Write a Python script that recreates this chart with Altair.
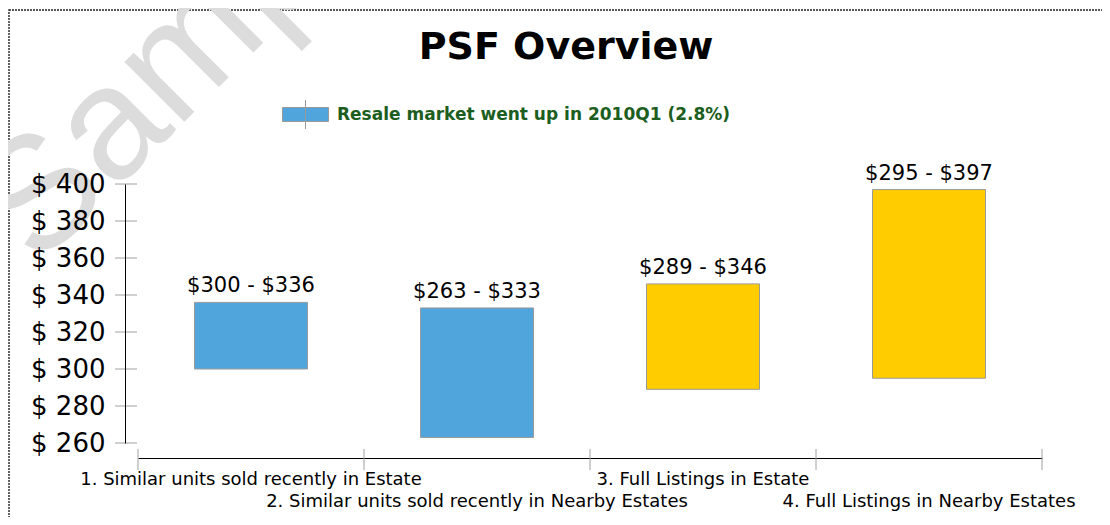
import altair as alt
import pandas as pd

# ---- data ----
categories = [
    "1. Similar units sold recently in Estate",
    "2. Similar units sold recently in Nearby Estates",
    "3. Full Listings in Estate",
    "4. Full Listings in Nearby Estates",
]
low = [300, 263, 289, 295]
high = [336, 333, 346, 397]
series = [
    "Resale market went up in 2010Q1 (2.8%)",
    "Resale market went up in 2010Q1 (2.8%)",
    "Listings",
    "Listings",
]
y_ticks = [260, 280, 300, 320, 340, 360, 380, 400]
boundaries = [0, 1, 2, 3, 4]

BLUE = "#50A5DC"
YELLOW = "#FFCC00"
FONT = "DejaVu Sans"
W, H = 904, 259

df = pd.DataFrame({"category": categories, "low": low, "high": high, "series": series})
df["idx"] = list(range(len(categories)))
df["x0"] = df["idx"] + 0.25
df["x1"] = df["idx"] + 0.75
df["xc"] = df["idx"] + 0.5
df["label"] = ["$%d - $%d" % (a, b) for a, b in zip(low, high)]
df["row"] = df["idx"] % 2

xscale = alt.Scale(domain=[0, 4], nice=False, zero=False)
yscale = alt.Scale(domain=[260, 400], nice=False, zero=False)

x_axis = alt.Axis(values=boundaries, labels=False, ticks=False, grid=False,
                  domainColor="black", domainWidth=1, offset=15, title=None)
y_axis = alt.Axis(values=y_ticks, labelExpr="'$ ' + datum.value", ticks=False,
                  grid=False, offset=13, labelPadding=20, labelFontSize=26,
                  labelFont=FONT, labelColor="black", domainColor="black",
                  domainWidth=1, title=None, zindex=1)

legend_path = "M-1,-0.304H1V0.304H-1Z M0,-0.63V0.63"

bars = alt.Chart(df).mark_rect(stroke="#9a9a9a", strokeWidth=1).encode(
    x=alt.X("x0:Q", scale=xscale, axis=x_axis),
    x2="x1",
    y=alt.Y("low:Q", scale=yscale, axis=y_axis),
    y2="high",
    color=alt.Color("series:N",
                    scale=alt.Scale(domain=[series[0], series[2]], range=[BLUE, YELLOW]),
                    legend=alt.Legend(values=[series[0]], orient="none", legendX=144,
                                      legendY=-93, title=None, symbolType=legend_path,
                                      symbolSize=2116, symbolStrokeColor="#999999",
                                      symbolStrokeWidth=1, labelFont=FONT,
                                      labelFontWeight="bold", labelColor="#1B5E20",
                                      labelFontSize=17, labelLimit=0, padding=0,
                                      labelOffset=8)),
)

bar_labels = alt.Chart(df).mark_text(
    dy=-10, baseline="alphabetic", fontSize=21, font=FONT, color="black"
).encode(
    x=alt.X("xc:Q", scale=xscale, axis=x_axis),
    y=alt.Y("high:Q", scale=yscale, axis=y_axis),
    text="label:N",
)

row1 = alt.Chart(df).transform_filter("datum.row == 0").mark_text(
    fontSize=18, font=FONT, color="black", baseline="middle"
).encode(x=alt.X("xc:Q", scale=xscale, axis=x_axis), y=alt.value(H + 37), text="category:N")

row2 = alt.Chart(df).transform_filter("datum.row == 1").mark_text(
    fontSize=18, font=FONT, color="black", baseline="middle"
).encode(x=alt.X("xc:Q", scale=xscale, axis=x_axis), y=alt.value(H + 59), text="category:N")

xticks = alt.Chart(pd.DataFrame({"b": boundaries})).mark_rule(color="#a0a0a0").encode(
    x=alt.X("b:Q", scale=xscale, axis=x_axis), y=alt.value(H + 6), y2=alt.value(H + 27)
)

yticks = alt.Chart(pd.DataFrame({"t": y_ticks})).mark_rule(color="#a0a0a0").encode(
    y=alt.Y("t:Q", scale=yscale, axis=y_axis), x=alt.value(-23), x2=alt.value(-1)
)

one = alt.Data(values=[{"k": 1}])

border = alt.Chart(one).mark_rect(
    fillOpacity=0, stroke="#222222", strokeWidth=1.4, strokeDash=[2, 1]
).encode(x=alt.value(-129), x2=alt.value(1000), y=alt.value(-174), y2=alt.value(400))

watermark = alt.Chart(one).mark_text(
    text="Sample", angle=315, fontSize=160, font="Liberation Sans", color="#dcdcdc",
    align="left", baseline="alphabetic"
).encode(x=alt.value(-100), y=alt.value(84))

title = alt.Chart(one).mark_text(
    text="PSF Overview", fontSize=38, font=FONT, fontWeight="bold", color="black",
    align="center", baseline="alphabetic"
).encode(x=alt.value(428), y=alt.value(-125))

chart = alt.layer(
    border, watermark, bars, bar_labels, row1, row2, xticks, yticks, title
).properties(
    width=W, height=H,
    autosize=alt.AutoSizeParams(type="none"),
    padding={"left": 130, "top": 176, "right": 60, "bottom": 74},
).configure_view(stroke=None)

chart.save("out.html", embed_options={"renderer": "svg", "actions": False})
